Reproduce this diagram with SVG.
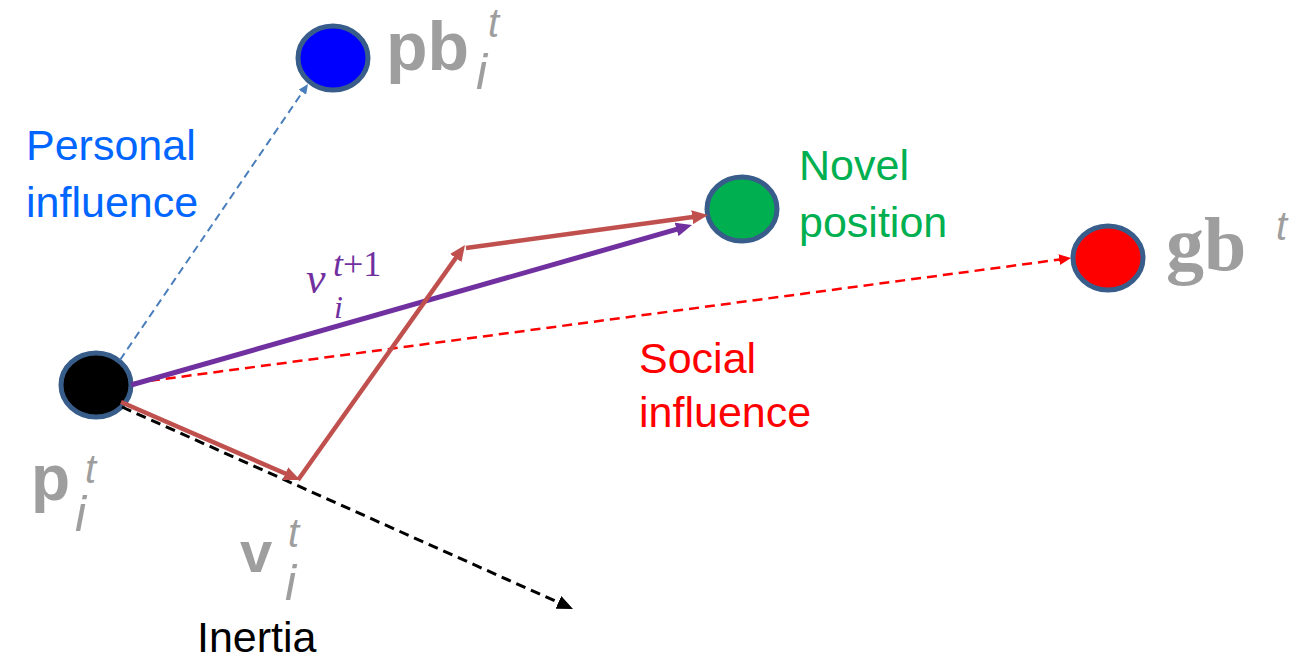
<svg xmlns="http://www.w3.org/2000/svg" width="1299" height="659" viewBox="0 0 1299 659">
<style>
.node{stroke:#385D8A;stroke-width:5}
.lbl{font-family:"Liberation Sans",Arial,sans-serif;font-size:43px}
.math{font-family:"Liberation Sans",Arial,sans-serif;fill:#9e9e9e}
.bold{font-weight:bold}
.it{font-style:italic}
.vec{font-family:"Liberation Serif","Times New Roman",serif;font-style:italic;fill:#7030A0}
</style>
<defs>
<marker id="mBrown" viewBox="0 0 16 14" refX="8" refY="7" markerWidth="16" markerHeight="14" markerUnits="userSpaceOnUse" orient="auto"><path d="M0,0 L16,7 L0,14 z" fill="#C0504D"/></marker>
<marker id="mPurple" viewBox="0 0 16 14" refX="8" refY="7" markerWidth="16" markerHeight="14" markerUnits="userSpaceOnUse" orient="auto"><path d="M0,0 L16,7 L0,14 z" fill="#7030A0"/></marker>
<marker id="mBlack" viewBox="0 0 16 14" refX="8" refY="7" markerWidth="16" markerHeight="14" markerUnits="userSpaceOnUse" orient="auto"><path d="M0,0 L16,7 L0,14 z" fill="#000"/></marker>
<marker id="mRed" viewBox="0 0 12 11" refX="6" refY="5.5" markerWidth="12" markerHeight="11" markerUnits="userSpaceOnUse" orient="auto"><path d="M0,0 L12,5.5 L0,11 z" fill="#FF0000"/></marker>
<marker id="mBlue" viewBox="0 0 10 9" refX="5" refY="4.5" markerWidth="10" markerHeight="9" markerUnits="userSpaceOnUse" orient="auto"><path d="M0,0 L10,4.5 L0,9 z" fill="#4A7EBB"/></marker>
</defs>
<rect width="1299" height="659" fill="#fff"/>

<g id="node-pb">
<ellipse class="node" cx="333" cy="58" rx="35" ry="32" fill="#0000FF"/>
<text class="math bold" x="386" y="70" font-size="68">pb</text>
<text class="math it" x="476" y="89" font-size="50">i</text>
<text class="math it" x="488" y="37" font-size="40">t</text>
</g>

<g id="node-novel">
<ellipse class="node" cx="742" cy="209" rx="35" ry="32" fill="#00B050"/>
<text class="lbl" x="799" y="180" fill="#00B050">Novel</text>
<text class="lbl" x="799" y="237" fill="#00B050">position</text>
</g>

<g id="node-gb">
<ellipse class="node" cx="1108" cy="258" rx="35" ry="32" fill="#FF0000"/>
<text x="1166" y="270" font-family="'Liberation Serif','Times New Roman',serif" font-weight="bold" font-size="76" fill="#9e9e9e">gb</text>
<text class="math it" x="1276" y="240" font-size="40">t</text>
</g>

<g id="node-p">
<ellipse class="node" cx="96" cy="385" rx="35" ry="32" fill="#000"/>
<text class="math bold" x="31" y="500" font-size="64">p</text>
<text class="math it" x="75" y="531" font-size="50">i</text>
<text class="math it" x="85" y="483" font-size="40">t</text>
</g>

<g id="label-v">
<text class="math bold" x="240" y="572" font-size="58">v</text>
<text class="math it" x="285" y="600" font-size="50">i</text>
<text class="math it" x="288" y="547" font-size="40">t</text>
</g>

<g id="label-personal">
<text class="lbl" x="26" y="160" fill="#0066FF" font-size="41">Personal</text>
<text class="lbl" x="26" y="217" fill="#0066FF" font-size="41">influence</text>
</g>

<g id="label-social">
<text class="lbl" x="639" y="373" fill="#FF0000" font-size="42">Social</text>
<text class="lbl" x="639" y="427" fill="#FF0000" font-size="42">influence</text>
</g>

<g id="label-inertia">
<text class="lbl" x="197" y="652" fill="#000">Inertia</text>
</g>

<g id="label-vt1">
<text class="vec" x="306" y="293" font-size="44">v</text>
<text class="vec" x="333" y="276" font-size="36">t<tspan font-style="normal">+1</tspan></text>
<text class="vec" x="334" y="318" font-size="32">i</text>
</g>

<g id="connectors" fill="none">
<line x1="120" y1="360" x2="305.2" y2="88.1" stroke="#4A7EBB" stroke-width="2" stroke-dasharray="8,5" marker-end="url(#mBlue)"/>
<line x1="134" y1="383" x2="1065.1" y2="258.8" stroke="#FF0000" stroke-width="2.5" stroke-dasharray="10,6" marker-end="url(#mRed)"/>
<line x1="122" y1="407" x2="565.7" y2="605.7" stroke="#000" stroke-width="3" stroke-dasharray="10,6" marker-end="url(#mBlack)"/>
<line x1="131" y1="385" x2="684.3" y2="227.2" stroke="#7030A0" stroke-width="5" marker-end="url(#mPurple)"/>
<line x1="121" y1="402" x2="292.7" y2="476.8" stroke="#C0504D" stroke-width="4.5" marker-end="url(#mBrown)"/>
<line x1="298" y1="480" x2="460.4" y2="251.5" stroke="#C0504D" stroke-width="4.5" marker-end="url(#mBrown)"/>
<line x1="466" y1="248" x2="700.1" y2="216.1" stroke="#C0504D" stroke-width="4.5" marker-end="url(#mBrown)"/>
</g>
</svg>
